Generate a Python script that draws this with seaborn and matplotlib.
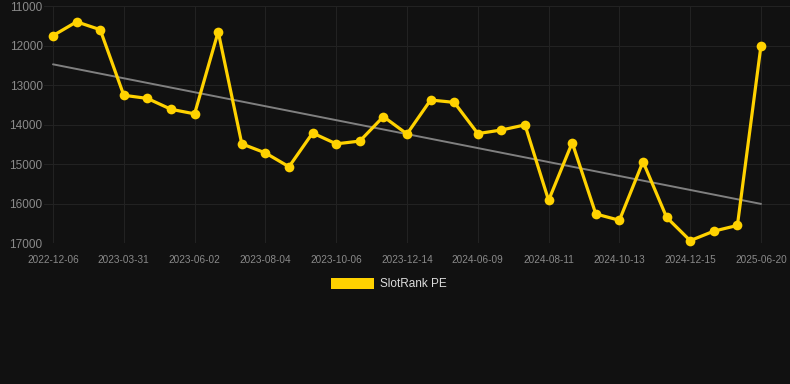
import numpy as np
import pandas as pd
import matplotlib
matplotlib.use("Agg")
import matplotlib.pyplot as plt
import seaborn as sns
from matplotlib.patches import Patch

values = [11750, 11400, 11600, 13260, 13340, 13615, 13730, 11650, 14490, 14720,
          15070, 14215, 14490, 14420, 13800, 14240, 13380, 13440, 14230, 14140,
          14010, 15920, 14460, 16265, 16425, 14940, 16350, 16940, 16700, 16555,
          12000]
tick_labels = ["2022-12-06", "2023-03-31", "2023-06-02", "2023-08-04", "2023-10-06",
               "2023-12-14", "2024-06-09", "2024-08-11", "2024-10-13", "2024-12-15",
               "2025-06-20"]
series_name = "SlotRank PE"

bg = "#111111"
yellow = "#FFD200"

sns.set_theme(style="dark")
plt.rcParams['font.family'] = ['Liberation Sans', 'DejaVu Sans']

idx = np.arange(len(values))
df = pd.DataFrame({"idx": idx, "value": values})
coef = np.polyfit(idx, values, 1)
df["trend"] = np.polyval(coef, idx)

fig = plt.figure(figsize=(7.9, 3.84), dpi=100, facecolor=bg)
ax = fig.add_axes([44/790, 1-243/384, 1-44/790, (243-6)/384])
ax.set_facecolor(bg)

sns.lineplot(data=df, x="idx", y="trend", ax=ax, color="#808080", linewidth=1.4, legend=False)
sns.lineplot(data=df, x="idx", y="value", ax=ax, color=yellow, linewidth=2.3,
             marker="o", markersize=7, markeredgewidth=0, legend=False)
for ln in ax.lines:
    ln.set_clip_on(False)

ax.set_xlim(-9/23.6, 30 + 29/23.6)
ax.set_ylim(17000, 11000)
ax.set_yticks(range(11000, 17001, 1000))
ax.set_yticklabels([str(v) for v in range(11000, 17001, 1000)])
ax.set_xticks(idx[::3])
ax.set_xticklabels(tick_labels)
ax.tick_params(axis="y", colors="#8a8a8a", labelsize=8.5, length=0, pad=1)
ax.tick_params(axis="x", colors="#8a8a8a", labelsize=7.2, length=4, width=0.8, pad=4.5,
               color="#2a2a2a")
ax.grid(True, color="#222222", linewidth=0.8)
for s in ax.spines.values():
    s.set_visible(False)
ax.set_xlabel("")
ax.set_ylabel("")

handle = Patch(facecolor=yellow, edgecolor="none")
leg = fig.legend([handle], [series_name], loc="center", bbox_to_anchor=(389/790, 1-284/384),
                 frameon=False, handlelength=3.6, handleheight=1.1, fontsize=8.5,
                 labelcolor="#dddddd", handletextpad=0.5)

fig.savefig("out.png", dpi=100, facecolor=bg)
